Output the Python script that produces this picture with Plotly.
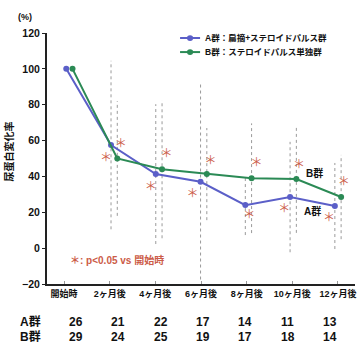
import plotly.graph_objects as go

categories = ["開始時", "2ヶ月後", "4ヶ月後", "6ヶ月後", "8ヶ月後", "10ヶ月後", "12ヶ月後"]
group_a = [100, 57.5, 41.3, 37, 24, 28.5, 23.5]
group_b = [100, 50, 44, 41.3, 39, 38.5, 28.5]
sd_a = [0, 47, 39, 54.5, 16.7, 30.8, 24]
sd_b = [0, 32, 38.5, 25.7, 30.6, 30, 23.5]
star_a = [None, 49.7, 33.5, 29.6, 17.9, 21.2, 16.2]
star_b = [None, 57.5, 52, 48, 47, 45.8, 36.3]
star_a_dx = [0, -0.11, -0.11, -0.18, 0.09, -0.13, -0.13]
star_b_dx = [0, 0.22, 0.24, 0.22, 0.25, 0.2, 0.2]
n_a = [26, 21, 22, 17, 14, 11, 13]
n_b = [29, 24, 25, 19, 17, 18, 14]
name_a = "A群：扁摘+ステロイドパルス群"
name_b = "B群：ステロイドパルス単独群"

B_OFF = 0.14
col_a = "#5b5fc8"
col_b = "#2b8a55"
col_star = "#cc5c48"
FONT = "Liberation Sans, Noto Sans CJK JP"

xa = list(range(len(categories)))
xb = [x + B_OFF for x in xa]
label_x = [-0.05 + i * 1.02 for i in xa]
table_x = [0.22 + i * 0.945 for i in xa]

def err_lines(xs, ys, sds):
    ex, ey = [], []
    for x, y, s in zip(xs, ys, sds):
        if s:
            ex += [x, x, None]
            ey += [y - s, y + s, None]
    return ex, ey

fig = go.Figure()
for xs, ys, sds in [(xa, group_a, sd_a), (xb, group_b, sd_b)]:
    ex, ey = err_lines(xs, ys, sds)
    fig.add_trace(go.Scatter(x=ex, y=ey, mode="lines", showlegend=False,
                             line=dict(color="#9a9a9a", width=1, dash="dot"), hoverinfo="skip"))

fig.add_trace(go.Scatter(x=xa, y=group_a, mode="lines+markers", name=name_a, showlegend=False,
                         line=dict(color=col_a, width=2), marker=dict(size=6, color=col_a)))
fig.add_trace(go.Scatter(x=xb, y=group_b, mode="lines+markers", name=name_b, showlegend=False,
                         line=dict(color=col_b, width=2), marker=dict(size=6, color=col_b)))

sx = [x + d for x, d, s in zip(xa, star_a_dx, star_a) if s is not None] + \
     [x + d for x, d, s in zip(xa, star_b_dx, star_b) if s is not None]
sy = [s for s in star_a if s is not None] + [s for s in star_b if s is not None]
fig.add_trace(go.Scatter(x=sx, y=sy, mode="text", text=["＊"] * len(sx), showlegend=False,
                         textfont=dict(color=col_star, size=12, family="Noto Sans CJK JP")))

# manual legend (paper coords)
shapes = []
ann = []
for name, col, yp in [(name_a, col_a, 0.98), (name_b, col_b, 0.924)]:
    shapes.append(dict(type="line", xref="paper", yref="paper", x0=0.432, x1=0.497, y0=yp, y1=yp,
                       line=dict(color=col, width=2)))
    shapes.append(dict(type="circle", xref="paper", yref="paper", x0=0.4545, x1=0.4745,
                       y0=yp - 0.0115, y1=yp + 0.0115, fillcolor=col, line=dict(color=col, width=0)))
    ann.append(dict(x=0.506, y=yp, xref="paper", yref="paper", text=name, showarrow=False,
                    xanchor="left", yanchor="middle", font=dict(size=8.5, color="#111", weight="bold")))

ann.append(dict(x=5.55, y=42, xref="x", yref="y", text="B群", showarrow=False,
                font=dict(size=10, color="#111", weight="bold")))
ann.append(dict(x=5.5, y=20.7, xref="x", yref="y", text="A群", showarrow=False,
                font=dict(size=10, color="#111", weight="bold")))
ann.append(dict(x=0.068, y=-6.5, xref="paper", yref="y", text="＊: p<0.05 vs 開始時", showarrow=False,
                xanchor="left", yanchor="middle", font=dict(size=10, color=col_star, weight="bold")))
ann.append(dict(x=-0.07, y=1.064, xref="paper", yref="paper", text="(%)", showarrow=False,
                xanchor="center", yanchor="middle", font=dict(size=9, color="#111", weight="bold")))
ann.append(dict(x=-0.122, y=0.53, xref="paper", yref="paper", text="尿蛋白変化率", showarrow=False,
                xanchor="center", yanchor="middle",
                textangle=-90, font=dict(size=10, color="#111", weight="bold")))
for label, row, yp in [("A群", n_a, -0.152), ("B群", n_b, -0.212)]:
    ann.append(dict(x=-0.055, y=yp, xref="paper", yref="paper", text=label, showarrow=False,
                    xanchor="center", yanchor="middle",
                    font=dict(size=12, color="#111", weight="bold")))
    for x, v in zip(table_x, row):
        ann.append(dict(x=x, y=yp, xref="x", yref="paper", text=str(v), showarrow=False,
                        xanchor="center", yanchor="middle",
                        font=dict(size=12, color="#111", weight="bold")))

fig.update_layout(
    width=359, height=345,
    margin=dict(l=47, r=4, t=33, b=61),
    paper_bgcolor="white", plot_bgcolor="white",
    font=dict(family=FONT, color="#111"),
    annotations=ann, shapes=shapes,
    showlegend=False,
    xaxis=dict(range=[-0.43, 6.45], tickvals=label_x, ticktext=categories, showgrid=False,
               zeroline=False, showline=True, linecolor="#222", linewidth=1.5,
               ticks="inside", ticklen=3, tickcolor="#999",
               tickfont=dict(size=9, weight="bold")),
    yaxis=dict(range=[-20, 120], tickvals=[-20, 0, 20, 40, 60, 80, 100, 120], showgrid=False,
               zeroline=False, showline=True, linecolor="#222", linewidth=2,
               ticks="outside", ticklen=3, tickcolor="#222",
               tickfont=dict(size=10.5, weight="bold")),
)

fig.write_html("out.html", config={"displayModeBar": False},
               post_script="document.body.style.margin='0';document.body.style.overflow='hidden';")
